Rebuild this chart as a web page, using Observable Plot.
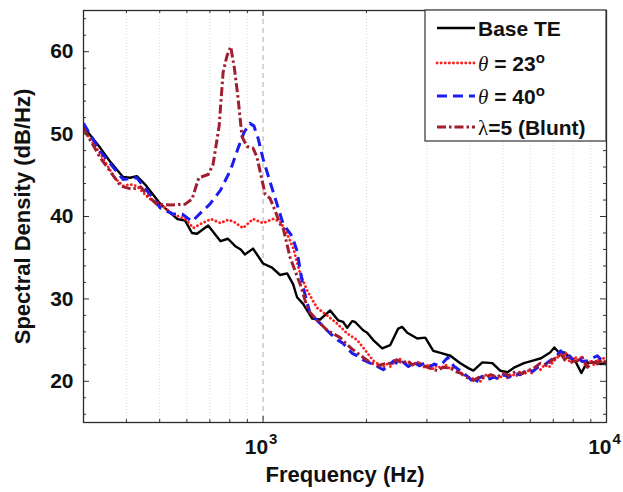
<!DOCTYPE html>
<html><head><meta charset="utf-8">
<script src="https://cdn.jsdelivr.net/npm/d3@7"></script>
<script src="https://cdn.jsdelivr.net/npm/@observablehq/plot@0.6"></script>
<style>body{margin:0;background:#fff} svg{display:block}</style>
</head><body><div id="chart"></div>
<script>
// [frequency Hz, spectral density dB/Hz]
const baseTE = [[300,50.9],[336,48.3],[358,46.7],[391,44.8],[410,44.7],[429,44.9],[453,43.9],[503,41.5],[562,39.7],[593,39.5],[621,38.0],[642,37.9],[692,38.9],[752,37.0],[790,37.3],[830,36.4],[861,36.0],[885,35.4],[935,36.1],[1000,34.3],[1062,33.8],[1121,32.9],[1175,33.1],[1223,31.8],[1256,30.2],[1308,29.4],[1390,27.6],[1466,27.5],[1568,28.6],[1654,27.4],[1711,27.2],[1758,26.5],[1817,27.3],[1854,27.2],[1956,26.2],[2010,25.9],[2093,25.0],[2223,24.0],[2346,24.4],[2475,26.4],[2540,26.6],[2630,25.9],[2812,25.2],[2967,25.3],[3131,23.7],[3325,23.4],[3510,23.1],[3752,22.2],[3960,21.6],[4095,21.3],[4350,22.3],[4652,22.2],[4900,21.3],[5150,21.1],[5400,21.7],[5750,22.2],[6100,22.5],[6450,22.8],[6850,23.5],[7050,24.1],[7300,23.4],[7550,23.5],[7800,22.9],[8150,22.3],[8450,21.0],[8750,22.2],[9200,22.3],[9600,22.1],[10000,22.2]];
const theta23 = [[300,50.6],[336,47.6],[370,44.7],[391,43.7],[410,43.9],[429,43.7],[465,42.2],[503,41.5],[545,40.3],[593,39.7],[627,38.6],[658,39.1],[705,39.7],[752,39.2],[790,39.6],[820,39.4],[874,38.6],[935,39.7],[1000,39.2],[1069,39.7],[1121,39.4],[1175,37.9],[1223,36.2],[1282,33.1],[1344,31.0],[1437,28.9],[1536,28.0],[1643,27.0],[1758,25.8],[1880,25.0],[1956,24.1],[2093,22.5],[2239,21.7],[2300,22.1],[2346,21.8],[2420,22.4],[2508,22.7],[2580,22.1],[2650,22.4],[2730,21.9],[2812,22.4],[2890,21.8],[2967,21.7],[3050,22.1],[3131,21.5],[3200,21.9],[3300,21.6],[3400,22.0],[3510,21.5],[3620,21.8],[3752,21.1],[3850,20.8],[3960,20.5],[4100,20.3],[4292,20.0],[4400,20.6],[4500,20.9],[4600,20.3],[4700,20.6],[4850,20.3],[5010,20.8],[5150,20.4],[5300,20.9],[5450,20.6],[5615,21.2],[5750,20.8],[5900,21.3],[6050,21.0],[6250,21.7],[6420,21.4],[6600,22.0],[6800,21.7],[7000,22.4],[7200,22.9],[7344,23.3],[7500,22.8],[7600,23.5],[7750,22.6],[7900,22.2],[8100,23.0],[8230,22.5],[8400,22.9],[8600,22.1],[8800,21.8],[9000,22.6],[9170,22.0],[9400,22.7],[9600,22.3],[9800,22.8],[10000,22.3]];
const theta40 = [[300,51.3],[336,47.9],[391,44.5],[429,44.7],[480,42.1],[503,41.0],[547,40.3],[581,40.3],[621,39.4],[664,40.6],[700,41.5],[752,43.2],[805,45.7],[846,48.3],[880,50.2],[915,51.3],[940,51.0],[967,49.5],[1000,47.0],[1048,44.2],[1098,41.5],[1144,39.1],[1215,37.6],[1256,35.8],[1308,31.4],[1371,28.2],[1437,27.4],[1568,25.8],[1650,25.0],[1711,24.6],[1760,24.0],[1817,23.4],[1900,23.0],[1956,22.6],[2050,22.2],[2150,21.8],[2239,21.4],[2320,21.9],[2400,22.5],[2480,22.0],[2560,22.3],[2650,21.8],[2750,22.3],[2850,21.9],[2950,22.2],[3050,21.7],[3150,22.1],[3250,21.9],[3350,22.3],[3450,22.9],[3510,22.4],[3600,21.8],[3752,21.3],[3850,20.9],[3960,20.5],[4050,20.1],[4150,19.7],[4250,20.4],[4350,20.6],[4500,20.2],[4700,20.5],[4850,20.3],[5010,20.8],[5200,20.5],[5400,21.0],[5600,20.8],[5884,21.4],[6100,21.2],[6300,21.7],[6550,21.9],[6800,22.4],[7000,22.8],[7200,23.2],[7350,23.7],[7450,23.5],[7600,22.8],[7800,23.1],[8000,22.6],[8230,22.9],[8500,22.4],[8800,22.5],[9100,22.8],[9400,23.1],[9700,22.5],[10000,22.3]];
const blunt = [[300,50.7],[336,47.1],[385,43.7],[415,43.3],[440,43.6],[470,42.2],[490,41.5],[540,41.4],[593,41.5],[621,42.1],[650,44.7],[692,45.1],[715,46.3],[745,51.0],[765,57.5],[785,59.5],[805,60.6],[825,58.0],[845,54.5],[868,49.7],[898,48.5],[935,48.3],[960,47.2],[980,45.5],[1014,42.7],[1048,42.2],[1084,40.7],[1121,39.1],[1144,38.6],[1199,35.0],[1282,31.8],[1353,28.6],[1437,27.4],[1536,26.2],[1677,25.3],[1794,24.1],[1956,22.9],[2050,22.3],[2150,21.9],[2250,22.1],[2346,22.2],[2450,22.6],[2550,22.2],[2630,22.5],[2720,22.0],[2830,22.3],[2927,21.9],[3050,21.6],[3215,21.3],[3350,21.7],[3510,21.6],[3630,21.2],[3752,21.0],[3900,20.5],[4095,20.1],[4250,20.5],[4450,20.4],[4600,20.8],[4800,20.5],[5010,21.0],[5200,20.7],[5450,21.2],[5650,20.9],[5884,21.3],[6100,21.5],[6422,22.2],[6700,22.0],[7000,22.7],[7200,22.9],[7400,23.4],[7550,22.6],[7700,23.1],[7900,22.4],[8230,22.5],[8500,22.9],[8800,21.7],[9000,22.2],[9200,22.6],[9400,22.1],[9700,22.6],[10000,22.2]];

const yTickLabels = [20,30,40,50,60];
const yMinorTicks = [16,18,22,24,26,28,32,34,36,38,42,44,46,48,52,54,56,58,62,64];
const xMajorTicks = [1000,10000];
const xTickExponents = ["3","4"];
const xMinorTicks = [400,500,600,700,800,900,2000,3000,4000,5000,6000,7000,8000,9000];

const series = [
  {name:"Base TE", data:baseTE, stroke:"#000000", width:2.4, dash:null, cap:"butt"},
  {name:"θ = 23°", data:theta23, stroke:"#ff1f1f", width:2.8, dash:"0.1,4", cap:"round"},
  {name:"θ = 40°", data:theta40, stroke:"#1c1cf0", width:3, dash:"10,6", cap:"butt"},
  {name:"λ=5 (Blunt)", data:blunt, stroke:"#a01e30", width:3, dash:"9,3,2.5,3", cap:"butt"}
];

const W = 623, H = 492, mT = 10, mR = 17, mB = 70, mL = 83;
const pW = W - mL - mR, pH = H - mT - mB;
const font = "'Liberation Sans', Arial, Helvetica, sans-serif";

const lineMarks = series.map(s => Plot.line(s.data, {
  x: d => d[0], y: d => d[1], stroke: s.stroke, strokeWidth: s.width,
  strokeDasharray: s.dash, strokeLinecap: s.cap, strokeLinejoin: "round", clip: true
}));

const chart = Plot.plot({
  width: W, height: H,
  marginTop: mT, marginRight: mR, marginBottom: mB, marginLeft: mL,
  style: {fontFamily: font, background: "#fff", overflow: "visible"},
  x: {type: "log", domain: [300, 10000], axis: null},
  y: {domain: [15, 65], axis: null},
  marks: [
    Plot.ruleX(xMinorTicks, {x: d => d, stroke: "#d0d0d0", strokeWidth: 0.8, strokeDasharray: "1,2"}),
    Plot.ruleX([1000], {x: d => d, stroke: "#b0b0b0", strokeWidth: 1, strokeDasharray: "5,4"}),
    ...lineMarks,
    // inward ticks
    Plot.tickY(yMinorTicks, {y: d => d, insetRight: pW - 3, stroke: "#333", strokeWidth: 1}),
    Plot.tickY(yTickLabels, {y: d => d, insetRight: pW - 6, stroke: "#333", strokeWidth: 1}),
    Plot.tickY(yMinorTicks, {y: d => d, insetLeft: pW - 3, stroke: "#333", strokeWidth: 1}),
    Plot.tickY(yTickLabels, {y: d => d, insetLeft: pW - 6, stroke: "#333", strokeWidth: 1}),
    Plot.tickX(xMinorTicks, {x: d => d, insetTop: pH - 3, stroke: "#333", strokeWidth: 1}),
    Plot.tickX(xMajorTicks, {x: d => d, insetTop: pH - 6, stroke: "#333", strokeWidth: 1}),
    Plot.tickX(xMinorTicks, {x: d => d, insetBottom: pH - 3, stroke: "#333", strokeWidth: 1}),
    Plot.tickX(xMajorTicks, {x: d => d, insetBottom: pH - 6, stroke: "#333", strokeWidth: 1}),
    Plot.frame({stroke: "#2a2a2a", strokeWidth: 1.3}),
    // tick labels
    Plot.text(yTickLabels, {y: d => d, frameAnchor: "left", dx: -10, textAnchor: "end", text: d => String(d), fontSize: 21, fontWeight: "bold", fill: "#111"}),
    Plot.text(xMajorTicks, {x: d => d, frameAnchor: "bottom", dx: 5, dy: 31, lineAnchor: "bottom", textAnchor: "end", text: d => "10", fontSize: 21, fontWeight: "bold", fill: "#111"}),
    Plot.text(xMajorTicks, {x: d => d, frameAnchor: "bottom", dx: 6, dy: 21, lineAnchor: "bottom", textAnchor: "start", text: (d, i) => xTickExponents[i], fontSize: 15, fontWeight: "bold", fill: "#111"}),
    // axis titles
    Plot.text(["Frequency (Hz)"], {frameAnchor: "bottom", dy: 59, lineAnchor: "bottom", textAnchor: "middle", text: d => d, fontSize: 22, fontWeight: "bold", fill: "#111"}),
    Plot.text(["Spectral Density (dB/Hz)"], {frameAnchor: "left", dx: -61, rotate: -90, textAnchor: "middle", lineAnchor: "middle", text: d => d, fontSize: 22, fontWeight: "bold", fill: "#111"})
  ]
});

// Legend (top-right inside the axes box)
const svg = d3.select(chart);
const lg = svg.append("g").attr("font-family", font).attr("text-anchor", "start");
const bx = 425, by = 10, bw = 606 - 425, bh = 131;
lg.append("rect").attr("x", bx).attr("y", by).attr("width", bw).attr("height", bh)
  .attr("fill", "#fff").attr("stroke", "#333").attr("stroke-width", 1.2);
const rowY = [28, 63, 96, 127];
series.forEach((s, i) => {
  const y = rowY[i];
  lg.append("line").attr("x1", 437).attr("x2", 475).attr("y1", y).attr("y2", y)
    .attr("stroke", s.stroke).attr("stroke-width", s.width)
    .attr("stroke-dasharray", s.dash).attr("stroke-linecap", s.cap);
  const t = lg.append("text").attr("x", 478).attr("y", y).attr("dy", "0.36em")
    .attr("text-anchor", "start")
    .attr("font-size", 21).attr("font-weight", "bold").attr("fill", "#111");
  if (i === 0) {
    t.text(s.name);
  } else if (i === 1 || i === 2) {
    t.append("tspan").attr("font-family", "'Liberation Serif', 'DejaVu Serif', serif")
      .attr("font-style", "italic").attr("font-weight", "normal").text("θ");
    t.append("tspan").text(i === 1 ? " = 23" : " = 40");
    t.append("tspan").attr("font-size", 15).attr("dy", "-0.5em").text("o");
  } else {
    t.append("tspan").attr("font-family", "'Liberation Serif', 'DejaVu Serif', serif")
      .attr("font-weight", "normal").text("λ");
    t.append("tspan").text("=5 (Blunt)");
  }
});

document.getElementById("chart").append(chart);
</script>
</body></html>
